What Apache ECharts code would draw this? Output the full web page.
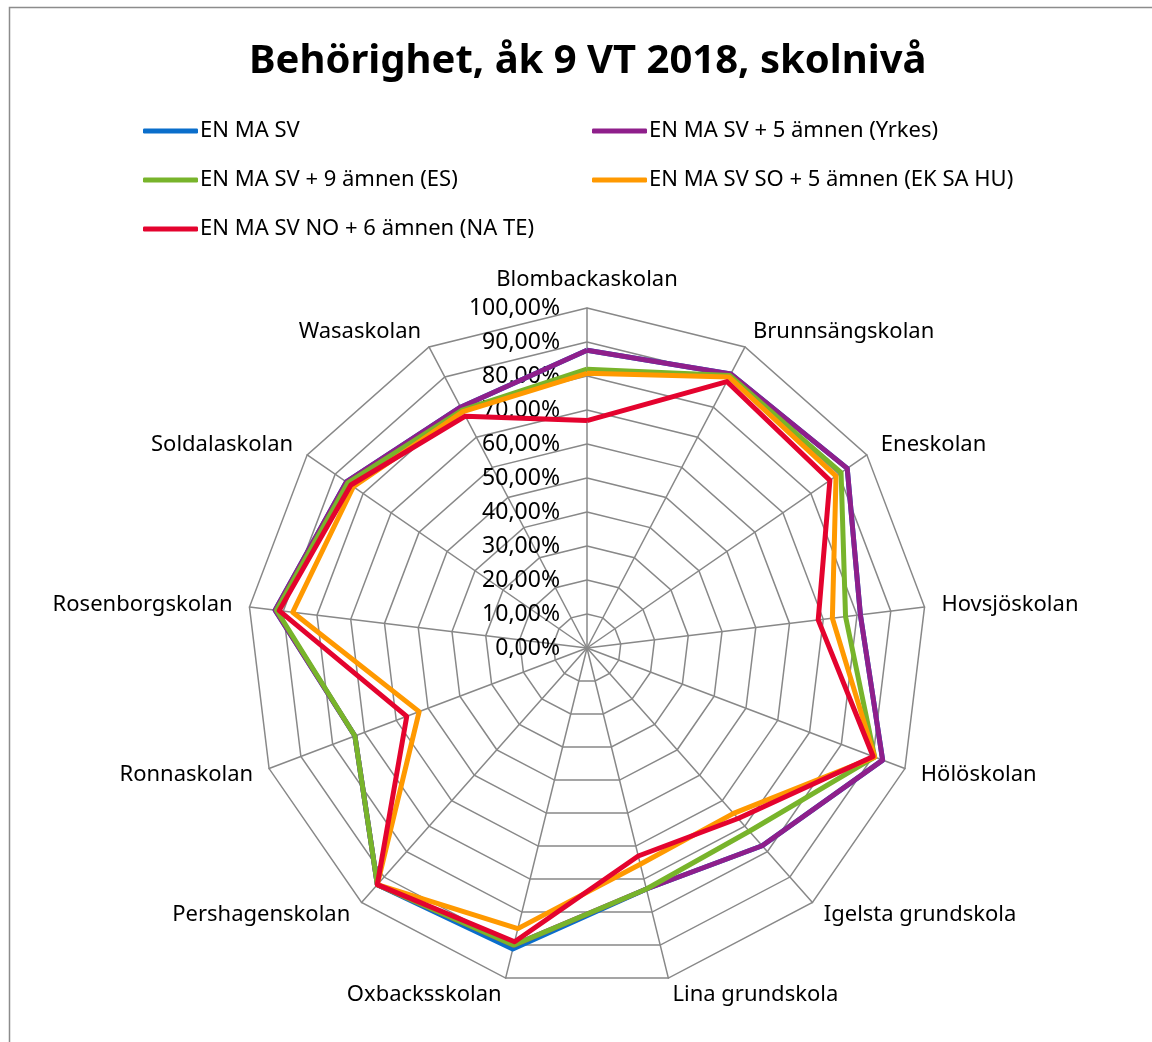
<!DOCTYPE html>
<html>
<head>
<meta charset="utf-8">
<title>Behörighet</title>
<script src="https://cdn.jsdelivr.net/npm/echarts@6/dist/echarts.min.js"></script>
<style>
    html, body { margin: 0; padding: 0; background: #fff; }
    #chart { width: 1152px; height: 1042px; }
</style>
</head>
<body>
<div id="chart"></div>
<script>
// skolor, medurs från toppen
var schools = ['Blombackaskolan', 'Brunnsängskolan', 'Eneskolan', 'Hovsjöskolan', 'Hölöskolan',
    'Igelsta grundskola', 'Lina grundskola', 'Oxbacksskolan', 'Pershagenskolan', 'Ronnaskolan',
    'Rosenborgskolan', 'Soldalaskolan', 'Wasaskolan'];
var seriesNames = ['EN MA SV', 'EN MA SV + 5 ämnen (Yrkes)', 'EN MA SV + 9 ämnen (ES)',
    'EN MA SV SO + 5 ämnen (EK SA HU)', 'EN MA SV NO + 6 ämnen (NA TE)'];
var colors = ['#0a6ecb', '#8f1f8b', '#78b42b', '#ff9900', '#e4032e'];

// procent per skola
var enMaSv   = [87.6, 91, 93, 81, 93, 77.7, 73, 91.2, 93, 73, 92.4, 86, 80];
var yrkes    = [87.6, 91, 93, 81, 93, 77.7, 73, 90, 93, 73, 92.4, 86, 80];
var es       = [82, 90.5, 90.8, 76.6, 90.5, 72, 73, 90, 93, 73, 92, 85.5, 79];
var ekSaHu   = [80.8, 90, 89, 72.7, 90.5, 65, 65.5, 85, 93, 52.8, 87.2, 83.5, 78.5];
var naTe     = [66.9, 88.5, 86.8, 68.5, 90, 67, 63, 89, 93, 56.7, 91.2, 84.4, 77];
var valueTicks = { min: 0, max: 100, step: 10 };

var allData = [enMaSv, yrkes, es, ekSaHu, naTe];

// radar i echarts går moturs, så vänd ordningen efter första skolan
var order = [0];
for (var i = schools.length - 1; i > 0; i--) order.push(i);

function reorder(arr) {
    return order.map(function (k) { return arr[k]; });
}

var myChart = echarts.init(document.getElementById('chart'));
var font = 'Noto Sans';

var option = {
    backgroundColor: '#fff',
    color: colors,
    animation: false,
    title: {
        text: 'Behörighet, åk 9 VT 2018, skolnivå',
        left: 244,
        top: 37,
        textStyle: { fontFamily: font, fontSize: 40, fontWeight: 'bold', color: '#000' }
    },
    legend: [{
        left: 138, top: 115, orient: 'vertical', itemGap: 27,
        itemWidth: 55, itemHeight: 5,
        data: [seriesNames[0], seriesNames[2], seriesNames[4]],
        textStyle: { fontFamily: font, fontSize: 22, color: '#000', padding: [0, 0, 0, -3] }
    }, {
        left: 587, top: 115, orient: 'vertical', itemGap: 27,
        itemWidth: 55, itemHeight: 5,
        data: [seriesNames[1], seriesNames[3]],
        textStyle: { fontFamily: font, fontSize: 22, color: '#000', padding: [0, 0, 0, -3] }
    }],
    radar: {
        center: [587, 648],
        radius: 340,
        startAngle: 90,
        splitNumber: 10,
        shape: 'polygon',
        nameGap: 17,
        axisName: { color: '#000', fontFamily: font, fontSize: 22 },
        indicator: reorder(schools).map(function (s) {
            return { name: s, min: valueTicks.min, max: valueTicks.max };
        }),
        splitLine: { lineStyle: { color: '#888', width: 1.5 } },
        axisLine: { lineStyle: { color: '#888', width: 1.5 } },
        splitArea: { show: false },
        axisLabel: { show: false }
    },
    // värdeetiketter längs den översta axeln
    grid: { left: 587, top: 308, width: 1, height: 340 },
    xAxis: { type: 'value', show: false },
    yAxis: {
        type: 'value',
        min: valueTicks.min, max: valueTicks.max, interval: valueTicks.step,
        axisLine: { show: false }, axisTick: { show: false }, splitLine: { show: false },
        axisLabel: {
            margin: 27, color: '#000', fontFamily: font, fontSize: 23,
            formatter: function (v) { return v.toFixed(2).replace('.', ',') + '%'; }
        }
    },
    graphic: [{
        type: 'rect',
        shape: { x: 9.5, y: 7.5, width: 1200, height: 1100 },
        style: { fill: 'none', stroke: '#8c8c8c', lineWidth: 1.5 },
        silent: true
    }],
    series: seriesNames.map(function (name, i) {
        return {
            type: 'radar',
            name: name,
            symbol: 'none',
            lineStyle: { width: 5, color: colors[i] },
            itemStyle: { color: colors[i] },
            data: [{ name: name, value: reorder(allData[i]) }]
        };
    })
};

myChart.setOption(option);
</script>
</body>
</html>
